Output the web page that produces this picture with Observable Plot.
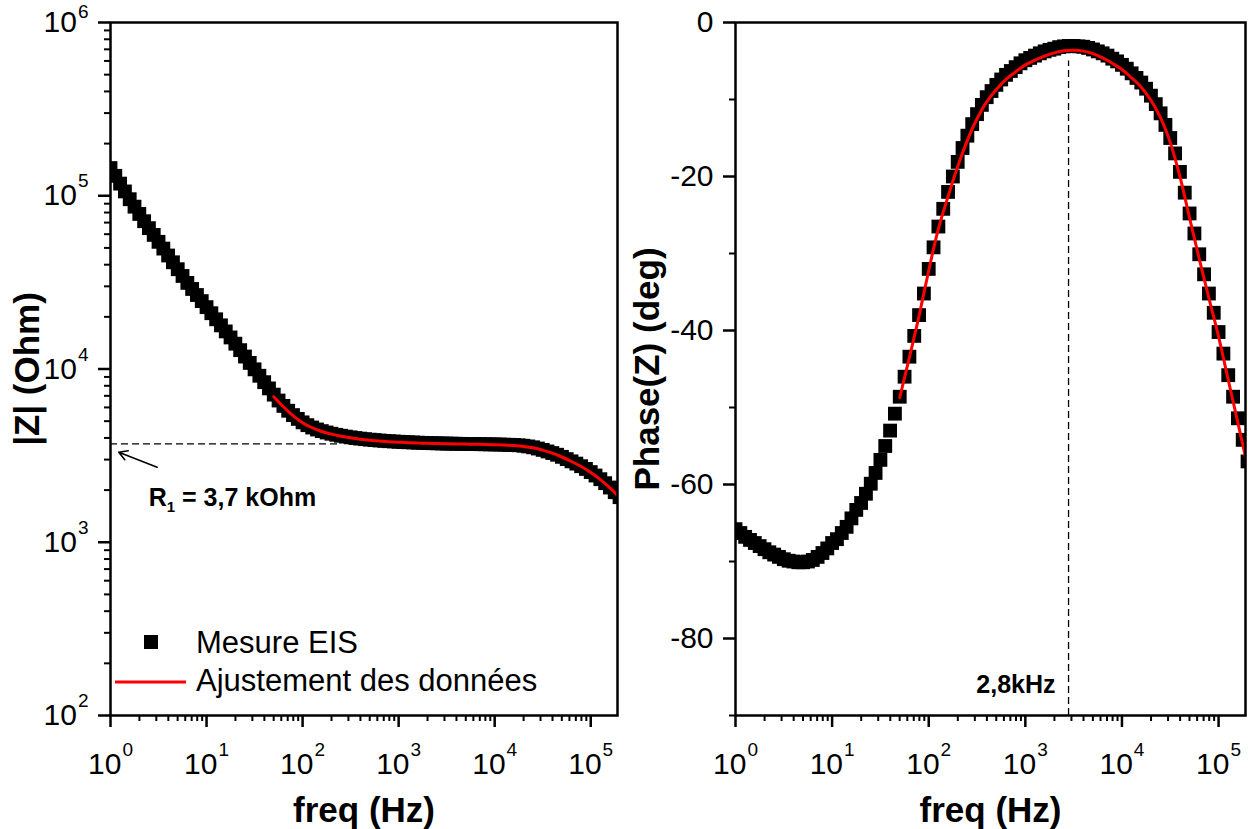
<!DOCTYPE html>
<html>
<head>
<meta charset="utf-8">
<script src="https://cdn.jsdelivr.net/npm/d3@7"></script>
<script src="https://cdn.jsdelivr.net/npm/@observablehq/plot@0.6"></script>
<style>
  html, body { margin: 0; padding: 0; background: #fff; }
  #wrap { position: relative; width: 1248px; height: 829px; overflow: hidden; font-family: "Liberation Sans", Arial, sans-serif; }
  #left { position: absolute; left: 0; top: 0; }
  #right { position: absolute; left: 624px; top: 0; }
  #legend { position: absolute; left: 0; top: 0; pointer-events: none; }
</style>
</head>
<body>
<div id="wrap">
  <div id="left"></div>
  <div id="right"></div>
  <svg id="legend" width="1248" height="829"></svg>
</div>
<script>
// ---------------- DATA ----------------
// measurement frequencies (Hz)
const freq = [
  1, 1.122, 1.259, 1.413, 1.585, 1.778, 1.995, 2.239, 2.512, 2.818, 3.162, 3.548, 3.981, 4.467, 5.012, 5.623, 6.310, 7.079, 7.943, 8.913,
  10, 11.22, 12.59, 14.13, 15.85, 17.78, 19.95, 22.39, 25.12, 28.18, 31.62, 35.48, 39.81, 44.67, 50.12, 56.23, 63.10, 70.79, 79.43, 89.13,
  100, 112.2, 125.9, 141.3, 158.5, 177.8, 199.5, 223.9, 251.2, 281.8, 316.2, 354.8, 398.1, 446.7, 501.2, 562.3, 631.0, 707.9, 794.3, 891.3,
  1000, 1122, 1259, 1413, 1585, 1778, 1995, 2239, 2512, 2818, 3162, 3548, 3981, 4467, 5012, 5623, 6310, 7079, 7943, 8913,
  10000, 11220, 12590, 14130, 15850, 17780, 19950, 22390, 25120, 28180, 31620, 35480, 39810, 44670, 50120, 56230, 63100, 70790, 79430, 89130,
  100000, 112200, 125900, 141300, 158500, 177800, 199500
];
// |Z| measured (Ohm)
const zMeasured = [
  144500, 130300, 117500, 105900, 95500, 86500, 78520, 71290, 65010, 59430, 54200, 49550, 45190, 41300, 37670, 34430, 31410, 28970, 26730, 24660,
  22750, 20990, 19360, 17860, 16480, 15210, 14000, 12850, 11800, 10840, 9954, 9141, 8395, 7727, 7112, 6577, 6124, 5741, 5420, 5152,
  4920, 4740, 4595, 4475, 4380, 4300, 4230, 4170, 4118, 4072, 4032, 3996, 3964, 3936, 3910, 3887, 3866, 3848, 3831, 3816,
  3802, 3789, 3777, 3766, 3756, 3747, 3739, 3731, 3724, 3718, 3712, 3707, 3702, 3698, 3694, 3690, 3686, 3682, 3678, 3674,
  3670, 3664, 3658, 3651, 3643, 3629, 3606, 3573, 3532, 3475, 3412, 3342, 3273, 3199, 3112, 3020, 2931, 2844, 2748, 2649,
  2541, 2427, 2312, 2193, 2070, 1945, 1820
];
// Phase measured (deg)
const phaseMeasured = [
  -65.8, -66.3, -66.8, -67.2, -67.6, -68.0, -68.4, -68.8, -69.1, -69.4, -69.7, -69.9, -70.0, -70.1, -70.1, -70.0, -69.8, -69.4, -68.9, -68.3,
  -67.6, -67.1, -66.3, -65.5, -64.4, -63.3, -62.4, -61.2, -59.9, -58.5, -56.8, -55.0, -53.0, -50.8, -48.6, -46.0, -43.4, -40.7, -38.0, -35.2,
  -32.0, -29.2, -26.5, -24.2, -22.0, -20.0, -18.1, -16.3, -14.7, -13.2, -11.9, -10.7, -9.7, -8.9, -8.1, -7.4, -6.8, -6.3, -5.8, -5.3,
  -4.9, -4.6, -4.3, -4.0, -3.75, -3.55, -3.4, -3.2, -3.1, -3.05, -3.05, -3.1, -3.15, -3.3, -3.5, -3.75, -4.0, -4.3, -4.7, -5.05,
  -5.5, -6.0, -6.6, -7.2, -7.8, -8.6, -9.5, -10.6, -11.8, -13.3, -15.0, -17.0, -19.4, -22.1, -24.8, -27.4, -30.1, -32.7, -35.2, -37.7,
  -40.2, -43.0, -45.8, -48.6, -51.4, -54.2, -57.0
];
// fitted model ("Ajustement des données")
const fitFreq = [
  50.12, 63.10, 79.43, 100, 125.9, 158.5, 199.5, 251.2, 316.2, 398.1, 501.2, 631.0, 794.3,
  1000, 1259, 1585, 1995, 2512, 3162, 3981, 5012, 6310, 7943,
  10000, 12590, 15850, 19950, 25120, 31620, 39810, 50120, 63100, 79430,
  100000, 125900, 158500, 199500
];
const zFit = [
  6918, 6053, 5383, 4900, 4580, 4360, 4210, 4095, 4005, 3935, 3880, 3838, 3805,
  3780, 3758, 3740, 3725, 3712, 3702, 3694, 3686, 3678, 3670,
  3656, 3639, 3614, 3573, 3508, 3404, 3266, 3105, 2924, 2735,
  2529, 2301, 2061, 1811
];
const phaseFit = [
  -48.7, -43.5, -38.1, -32.2, -26.8, -22.6, -18.7, -15.3, -12.5, -10.3, -8.7, -7.4, -6.4,
  -5.5, -4.9, -4.35, -3.95, -3.68, -3.6, -3.72, -4.05, -4.6, -5.3,
  -6.1, -7.2, -8.4, -10.1, -12.4, -15.6, -20.0, -25.4, -30.7, -35.8,
  -40.8, -46.4, -52.0, -57.6
];
// annotations
const r1Value = 3700;            // R1 = 3,7 kOhm
const r1Text = "R_1 = 3,7 kOhm";
const peakFreq = 2800;           // 2,8 kHz
const peakText = "2,8kHz";
const seriesNames = ["Mesure EIS", "Ajustement des données"];
// axes
const xTitle = "freq (Hz)";
const yTitleLeft = "|Z| (Ohm)";
const yTitleRight = "Phase(Z) (deg)";
const xMajor = [1, 10, 100, 1000, 10000, 100000];
const yMajorLeft = [100, 1000, 10000, 100000, 1000000];
const yMajorRight = [0, -20, -40, -60, -80];
const yMinorRight = [-10, -30, -50, -70, -90];

// ---------------- build tables ----------------
const measured = freq.map((f, i) => ({f, z: zMeasured[i], p: phaseMeasured[i]}));
const fitted = fitFreq.map((f, i) => ({f, z: zFit[i], p: phaseFit[i]}));
const minorLog = (lo, hi) => {
  const out = [];
  for (let d = lo; d < hi; d *= 10) for (let m = 2; m <= 9; m++) out.push(d * m);
  return out;
};
const xMinor = minorLog(1, 100000);
const yMinorLeft = minorLog(100, 1000000);
const expFmt = d => "10^" + Math.round(Math.log10(d));

const FONT = "'Liberation Sans', Arial, Helvetica, sans-serif";
const BLACK = "#000000";
const RED = "#ff0000";
const xDomain = [1, 1.9e5];
const SQ = 7.8; // square marker radius

function commonAxes(yMajor, yMinor, yFmt) {
  return [
    Plot.frame({stroke: BLACK, strokeWidth: 2.5}),
    Plot.axisX(xMinor, {tickSize: 6, strokeWidth: 2, tickFormat: () => "", label: null}),
    Plot.axisX(xMajor, {tickSize: 12, strokeWidth: 2.5, tickPadding: 25, fontSize: 30, tickFormat: expFmt, label: null}),
    Plot.axisY(yMinor, {tickSize: 6, strokeWidth: 2, tickFormat: () => "", label: null}),
    Plot.axisY(yMajor, {tickSize: 12, strokeWidth: 2.5, tickPadding: 10, fontSize: 30, tickFormat: yFmt, label: null}),
    Plot.text([xTitle], {frameAnchor: "bottom", textAnchor: "middle", lineAnchor: "middle", dy: 95, fontSize: 35, fontWeight: "bold"})
  ];
}

const leftPlot = Plot.plot({
  width: 624, height: 829,
  marginLeft: 110, marginRight: 7, marginTop: 22, marginBottom: 114,
  style: {background: "transparent", fontFamily: FONT, color: BLACK, fontSize: "30px", overflow: "visible"},
  x: {type: "log", domain: xDomain},
  y: {type: "log", domain: [100, 1000000]},
  marks: [
    Plot.ruleY([{z: r1Value, f1: 1, f2: 250}], {y: "z", x1: "f1", x2: "f2", stroke: BLACK, strokeWidth: 1.3, strokeDasharray: "7,4"}),
    Plot.dot(measured, {x: "f", y: "z", symbol: "square", r: SQ, fill: BLACK, clip: true}),
    Plot.line(fitted, {x: "f", y: "z", stroke: RED, strokeWidth: 3, curve: "catmull-rom", clip: true}),
    Plot.arrow([{fa: 3.06, za: 2711, fb: 1.22, zb: 3311}], {x1: "fa", y1: "za", x2: "fb", y2: "zb", stroke: BLACK, strokeWidth: 1.6, headLength: 9, bend: 0}),
    Plot.text([{f: 2.5, z: 1811, t: r1Text}], {x: "f", y: "z", text: "t", textAnchor: "start", lineAnchor: "middle", fontSize: 25, fontWeight: "bold"}),
    ...commonAxes(yMajorLeft, yMinorLeft, expFmt),
    Plot.text([yTitleLeft], {frameAnchor: "left", textAnchor: "middle", lineAnchor: "middle", rotate: -90, dx: -83, fontSize: 35, fontWeight: "bold"})
  ]
});

const rightPlot = Plot.plot({
  width: 624, height: 829,
  marginLeft: 111, marginRight: 3, marginTop: 22, marginBottom: 114,
  style: {background: "transparent", fontFamily: FONT, color: BLACK, fontSize: "30px", overflow: "visible"},
  x: {type: "log", domain: xDomain},
  y: {type: "linear", domain: [-90, 0]},
  marks: [
    Plot.ruleX([{f: peakFreq, y1: -90, y2: -5}], {x: "f", y1: "y1", y2: "y2", stroke: BLACK, strokeWidth: 1.3, strokeDasharray: "7,4"}),
    Plot.dot(measured, {x: "f", y: "p", symbol: "square", r: SQ, fill: BLACK, clip: true}),
    Plot.line(fitted, {x: "f", y: "p", stroke: RED, strokeWidth: 3, curve: "catmull-rom", clip: true}),
    Plot.text([{f: peakFreq, p: -86, t: peakText}], {x: "f", y: "p", text: "t", dx: -13, textAnchor: "end", lineAnchor: "middle", fontSize: 25, fontWeight: "bold"}),
    ...commonAxes(yMajorRight, yMinorRight, d => String(d)),
    Plot.text([yTitleRight], {frameAnchor: "left", textAnchor: "middle", lineAnchor: "middle", rotate: -90, dx: -88, fontSize: 35, fontWeight: "bold"})
  ]
});

const NS = "http://www.w3.org/2000/svg";
const sups = [];
function decorate(svg) {
  svg.querySelectorAll("text").forEach(t => {
    const s = t.textContent;
    let m = s.match(/^10\^(\d+)$/);
    if (m) {
      t.textContent = "10";
      const sup = document.createElementNS(NS, "tspan");
      sup.setAttribute("font-size", "19");
      sup.setAttribute("dy", "-18");
      sup.setAttribute("dx", "1");
      sup.textContent = m[1];
      t.appendChild(sup);
      sups.push(sup);
      return;
    }
    m = s.match(/^(\w)_(\d)(.*)$/);
    if (m) {
      t.textContent = m[1];
      const sub = document.createElementNS(NS, "tspan");
      sub.setAttribute("font-size", "15");
      sub.setAttribute("dy", "6");
      sub.textContent = m[2];
      const rest = document.createElementNS(NS, "tspan");
      rest.setAttribute("dy", "-6");
      rest.textContent = m[3];
      t.appendChild(sub);
      t.appendChild(rest);
    }
  });
}
decorate(leftPlot);
decorate(rightPlot);
document.getElementById("left").appendChild(leftPlot);
document.getElementById("right").appendChild(rightPlot);

// keep superscripts inside the page (the 10^6 label sits at the very top)
const wrapTop = document.getElementById("wrap").getBoundingClientRect().top;
sups.forEach(sup => {
  const top = sup.getBoundingClientRect().top - wrapTop;
  if (top < 0) sup.setAttribute("dy", String(-18 - top + 0.5));
});

// legend (inside the left panel, bottom-left)
const lg = d3.select("#legend");
lg.append("rect").attr("x", 144).attr("y", 635).attr("width", 14).attr("height", 14).attr("fill", BLACK);
lg.append("line").attr("x1", 115).attr("x2", 186).attr("y1", 682).attr("y2", 682).attr("stroke", RED).attr("stroke-width", 3);
lg.selectAll("text.lab").data(seriesNames).join("text")
  .attr("class", "lab")
  .attr("x", 196)
  .attr("y", (d, i) => i === 0 ? 653 : 691)
  .attr("font-family", FONT)
  .attr("font-size", 31)
  .attr("fill", BLACK)
  .text(d => d);
</script>
</body>
</html>
